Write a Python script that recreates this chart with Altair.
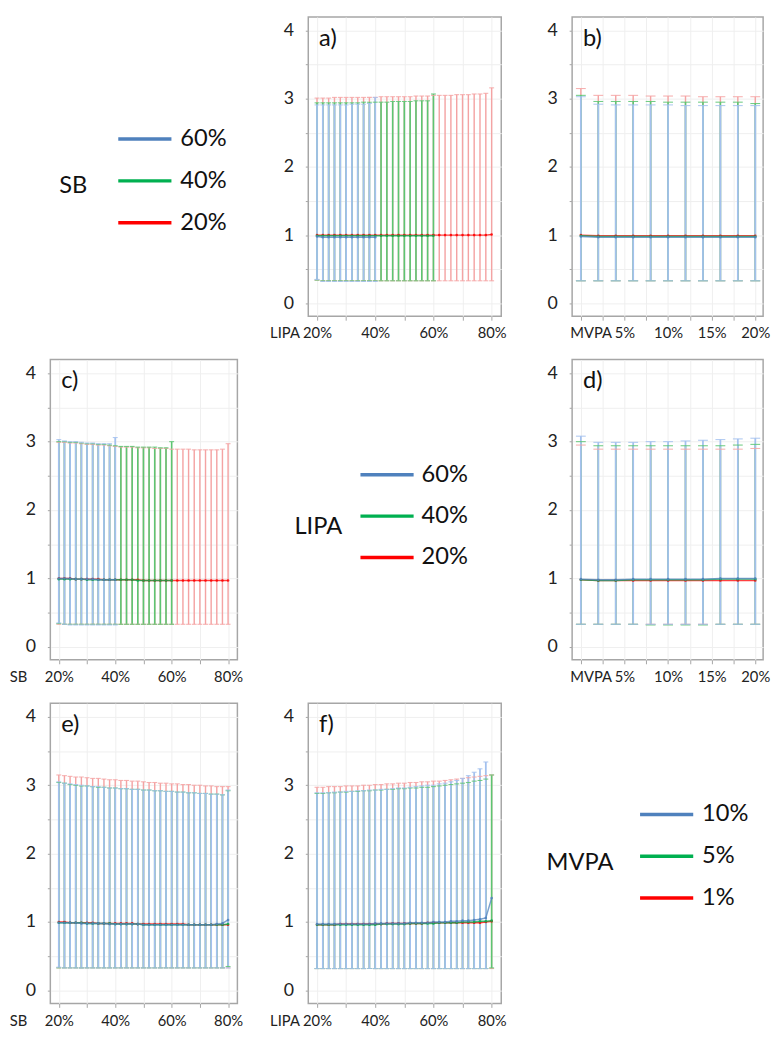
import altair as alt
import pandas as pd

FONT = "Lato"
BLUE, GREEN, RED = "#4f81bd", "#00b050", "#ff0000"
BAR_BLUE, BAR_GREEN, BAR_RED = "#a3c1ee", "#5cc672", "#f4a3a3"

# ---------------- x categories ----------------
X40 = [20, 22, 24, 26, 28, 30, 32, 34, 36, 38, 40]
X60 = [20, 22, 24, 26, 28, 30, 32, 34, 36, 38, 40, 42, 44, 46, 48, 50, 52, 54, 56, 58, 60]
X80 = [20, 22, 24, 26, 28, 30, 32, 34, 36, 38, 40, 42, 44, 46, 48, 50, 52, 54, 56, 58, 60,
       62, 64, 66, 68, 70, 72, 74, 76, 78, 80]
XM = [0, 2, 4, 6, 8, 10, 12, 14, 16, 18, 20]

SB_LABELS = ["60%", "40%", "20%"]
LIPA_LABELS = ["60%", "40%", "20%"]
MVPA_LABELS = ["10%", "5%", "1%"]
LEGEND_TITLES = ["SB", "LIPA", "MVPA"]
PANEL_TAGS = ["a)", "b)", "c)", "d)", "e)", "f)"]

# ---------------- panel a (x = LIPA, series = SB) ----------------
A60_HI = [2.91, 2.91, 2.91, 2.91, 2.91, 2.91, 2.92, 2.92, 2.92, 2.93, 3.02]
A60_MID = [0.98, 0.97, 0.97, 0.97, 0.97, 0.97, 0.97, 0.97, 0.97, 0.97, 0.97]
A60_LO = [0.35, 0.32, 0.32, 0.32, 0.32, 0.32, 0.32, 0.32, 0.32, 0.32, 0.32]
A40_HI = [2.94, 2.94, 2.94, 2.94, 2.94, 2.94, 2.94, 2.94, 2.95, 2.95, 2.95, 2.95, 2.95, 2.96,
          2.96, 2.96, 2.96, 2.97, 2.97, 2.97, 3.07]
A40_MID = [0.99, 0.99, 0.99, 0.99, 0.99, 0.99, 0.99, 0.99, 0.99, 0.99, 0.99, 0.99, 0.99, 0.99,
           0.99, 0.99, 0.99, 0.99, 0.99, 0.99, 0.99]
A40_LO = [0.34, 0.33, 0.33, 0.33, 0.33, 0.33, 0.33, 0.33, 0.33, 0.33, 0.33, 0.33, 0.33, 0.33,
          0.33, 0.33, 0.33, 0.33, 0.33, 0.33, 0.33]
A20_HI = [3.01, 3.01, 3.01, 3.02, 3.02, 3.02, 3.02, 3.02, 3.02, 3.02, 3.02, 3.03, 3.03, 3.03,
          3.03, 3.03, 3.03, 3.04, 3.04, 3.04, 3.05, 3.05, 3.05, 3.05, 3.06, 3.06, 3.06, 3.07,
          3.07, 3.08, 3.16]
A20_MID = [1.00, 1.00, 1.00, 1.00, 1.00, 1.00, 1.00, 1.00, 1.00, 1.00, 1.00, 1.00, 1.00, 1.00,
           1.00, 1.00, 1.00, 1.00, 1.00, 1.00, 1.00, 1.00, 1.00, 1.00, 1.00, 1.00, 1.00, 1.00,
           1.00, 1.00, 1.01]
A20_LO = [0.34, 0.33, 0.33, 0.33, 0.33, 0.33, 0.33, 0.33, 0.33, 0.33, 0.33, 0.33, 0.33, 0.33,
          0.33, 0.33, 0.33, 0.33, 0.33, 0.33, 0.33, 0.33, 0.33, 0.33, 0.33, 0.33, 0.33, 0.33,
          0.33, 0.33, 0.33]

# ---------------- panel b (x = MVPA, series = SB) ----------------
B60_HI = [3.03, 2.92, 2.91, 2.91, 2.91, 2.91, 2.90, 2.90, 2.90, 2.90, 2.90]
B60_MID = [0.98, 0.97, 0.97, 0.97, 0.97, 0.97, 0.97, 0.97, 0.97, 0.97, 0.97]
B60_LO = [0.33, 0.33, 0.33, 0.33, 0.33, 0.33, 0.33, 0.33, 0.33, 0.33, 0.33]
B40_HI = [3.05, 2.96, 2.96, 2.96, 2.96, 2.95, 2.95, 2.95, 2.95, 2.95, 2.93]
B40_MID = [0.99, 0.98, 0.98, 0.98, 0.98, 0.98, 0.98, 0.98, 0.98, 0.98, 0.98]
B40_LO = [0.33, 0.33, 0.33, 0.33, 0.33, 0.33, 0.33, 0.33, 0.33, 0.33, 0.33]
B20_HI = [3.15, 3.05, 3.05, 3.05, 3.04, 3.04, 3.04, 3.03, 3.03, 3.03, 3.03]
B20_MID = [1.00, 0.99, 0.99, 0.99, 0.99, 0.99, 0.99, 0.99, 0.99, 0.99, 0.99]
B20_LO = [0.33, 0.33, 0.33, 0.33, 0.33, 0.33, 0.33, 0.33, 0.33, 0.33, 0.33]

# ---------------- panel c (x = SB, series = LIPA) ----------------
C60_HI = [3.03, 3.01, 3.00, 3.00, 2.99, 2.98, 2.98, 2.97, 2.97, 2.97, 3.06]
C60_MID = [1.00, 1.00, 1.00, 0.99, 0.99, 0.99, 0.99, 0.98, 0.98, 0.98, 0.98]
C60_LO = [0.35, 0.33, 0.32, 0.32, 0.32, 0.32, 0.32, 0.32, 0.32, 0.32, 0.32]
C40_HI = [3.00, 3.00, 2.99, 2.99, 2.98, 2.97, 2.97, 2.96, 2.96, 2.95, 2.94, 2.93, 2.93, 2.93,
          2.92, 2.92, 2.92, 2.92, 2.91, 2.91, 3.00]
C40_MID = [0.99, 0.99, 0.99, 0.99, 0.99, 0.98, 0.98, 0.98, 0.98, 0.98, 0.98, 0.98, 0.98, 0.98,
           0.97, 0.97, 0.97, 0.97, 0.97, 0.97, 0.97]
C40_LO = [0.34, 0.33, 0.33, 0.33, 0.33, 0.33, 0.33, 0.33, 0.33, 0.33, 0.33, 0.33, 0.33, 0.33,
          0.33, 0.33, 0.33, 0.33, 0.33, 0.33, 0.33]
C20_HI = [2.99, 2.99, 2.98, 2.98, 2.97, 2.96, 2.96, 2.95, 2.95, 2.94, 2.93, 2.92, 2.92, 2.92,
          2.91, 2.91, 2.91, 2.90, 2.90, 2.90, 2.89, 2.89, 2.89, 2.89, 2.88, 2.88, 2.88, 2.88,
          2.88, 2.89, 2.97]
C20_MID = [1.00, 1.00, 1.00, 0.99, 0.99, 0.99, 0.99, 0.99, 0.98, 0.98, 0.98, 0.98, 0.98, 0.98,
           0.98, 0.97, 0.97, 0.97, 0.97, 0.97, 0.97, 0.97, 0.97, 0.97, 0.97, 0.97, 0.97, 0.97,
           0.97, 0.97, 0.97]
C20_LO = [0.33, 0.33, 0.33, 0.33, 0.33, 0.33, 0.33, 0.33, 0.33, 0.33, 0.33, 0.33, 0.33, 0.33,
          0.33, 0.33, 0.33, 0.33, 0.33, 0.33, 0.33, 0.33, 0.33, 0.33, 0.33, 0.33, 0.33, 0.33,
          0.33, 0.33, 0.33]

# ---------------- panel d (x = MVPA, series = LIPA) ----------------
D60_HI = [3.08, 2.99, 2.99, 2.99, 3.00, 3.00, 3.01, 3.02, 3.03, 3.04, 3.05]
D60_MID = [0.99, 0.98, 0.98, 0.99, 0.99, 0.99, 0.99, 0.99, 1.00, 1.00, 1.00]
D60_LO = [0.33, 0.33, 0.33, 0.33, 0.33, 0.33, 0.33, 0.33, 0.33, 0.33, 0.33]
D40_HI = [3.00, 2.94, 2.94, 2.94, 2.94, 2.94, 2.94, 2.94, 2.94, 2.95, 2.96]
D40_MID = [0.98, 0.97, 0.97, 0.98, 0.98, 0.98, 0.98, 0.98, 0.99, 0.99, 0.99]
D40_LO = [0.33, 0.33, 0.33, 0.33, 0.32, 0.32, 0.32, 0.32, 0.33, 0.33, 0.33]
D20_HI = [2.95, 2.89, 2.89, 2.89, 2.89, 2.89, 2.89, 2.89, 2.89, 2.89, 2.90]
D20_MID = [0.98, 0.97, 0.97, 0.97, 0.97, 0.97, 0.97, 0.97, 0.97, 0.97, 0.97]
D20_LO = [0.33, 0.33, 0.33, 0.33, 0.33, 0.33, 0.33, 0.33, 0.33, 0.33, 0.33]

# ---------------- panel e (x = SB, series = MVPA) ----------------
E10_HI = [3.05, 3.03, 3.02, 3.01, 3.00, 2.99, 2.98, 2.98, 2.97, 2.96, 2.96, 2.95, 2.95, 2.94,
          2.94, 2.93, 2.93, 2.92, 2.92, 2.91, 2.91, 2.90, 2.90, 2.89, 2.89, 2.88, 2.88, 2.87,
          2.87, 2.86, 2.93]
E10_MID = [0.99, 0.99, 0.99, 0.99, 0.98, 0.98, 0.98, 0.98, 0.98, 0.97, 0.97, 0.97, 0.97, 0.97,
           0.97, 0.96, 0.96, 0.96, 0.96, 0.96, 0.96, 0.96, 0.96, 0.96, 0.96, 0.96, 0.96, 0.96,
           0.97, 0.98, 1.03]
E10_LO = [0.34, 0.33, 0.33, 0.33, 0.33, 0.33, 0.33, 0.33, 0.33, 0.33, 0.33, 0.33, 0.33, 0.33,
          0.33, 0.33, 0.33, 0.33, 0.33, 0.33, 0.33, 0.33, 0.33, 0.33, 0.33, 0.33, 0.33, 0.33,
          0.33, 0.33, 0.33]
E5_HI = [3.04, 3.03, 3.01, 3.00, 2.99, 2.99, 2.98, 2.97, 2.97, 2.96, 2.96, 2.95, 2.95, 2.94,
         2.94, 2.93, 2.93, 2.92, 2.92, 2.91, 2.91, 2.90, 2.90, 2.89, 2.89, 2.88, 2.88, 2.87,
         2.87, 2.86, 2.92]
E5_MID = [0.99, 0.99, 0.99, 0.99, 0.99, 0.98, 0.98, 0.98, 0.98, 0.98, 0.97, 0.97, 0.97, 0.97,
          0.97, 0.96, 0.96, 0.96, 0.96, 0.96, 0.96, 0.96, 0.96, 0.96, 0.96, 0.96, 0.96, 0.96,
          0.96, 0.96, 0.97]
E5_LO = [0.33, 0.33, 0.33, 0.33, 0.33, 0.33, 0.33, 0.33, 0.33, 0.33, 0.33, 0.33, 0.33, 0.33,
         0.33, 0.33, 0.33, 0.33, 0.33, 0.33, 0.33, 0.33, 0.33, 0.33, 0.33, 0.33, 0.33, 0.33,
         0.33, 0.33, 0.35]
E1_HI = [3.15, 3.14, 3.13, 3.12, 3.12, 3.11, 3.10, 3.10, 3.09, 3.08, 3.08, 3.07, 3.07, 3.06,
         3.06, 3.05, 3.04, 3.04, 3.03, 3.03, 3.02, 3.02, 3.01, 3.01, 3.00, 3.00, 2.99, 2.99,
         2.98, 2.98, 2.98]
E1_MID = [1.00, 1.00, 0.99, 0.99, 0.99, 0.99, 0.99, 0.98, 0.98, 0.98, 0.98, 0.98, 0.98, 0.98,
          0.97, 0.97, 0.97, 0.97, 0.97, 0.97, 0.97, 0.97, 0.97, 0.96, 0.96, 0.96, 0.96, 0.96,
          0.96, 0.96, 0.96]
E1_LO = [0.33, 0.33, 0.33, 0.33, 0.33, 0.33, 0.33, 0.33, 0.33, 0.33, 0.33, 0.33, 0.33, 0.33,
         0.33, 0.33, 0.33, 0.33, 0.33, 0.33, 0.33, 0.33, 0.33, 0.33, 0.33, 0.33, 0.33, 0.33,
         0.33, 0.33, 0.33]

# ---------------- panel f (x = LIPA, series = MVPA) ----------------
F10_HI = [2.89, 2.89, 2.89, 2.90, 2.90, 2.91, 2.91, 2.92, 2.92, 2.93, 2.93, 2.94, 2.94, 2.95,
          2.96, 2.96, 2.97, 2.98, 2.99, 3.00, 3.00, 3.02, 3.03, 3.05, 3.07, 3.10, 3.14, 3.19,
          3.24, 3.34, None]
F10_MID = [0.97, 0.97, 0.97, 0.97, 0.97, 0.97, 0.97, 0.97, 0.97, 0.97, 0.98, 0.98, 0.98, 0.98,
           0.98, 0.98, 0.99, 0.99, 0.99, 0.99, 1.00, 1.00, 1.00, 1.01, 1.01, 1.02, 1.02, 1.03,
           1.04, 1.06, 1.35]
F10_LO = [0.32, 0.32, 0.32, 0.32, 0.32, 0.32, 0.32, 0.32, 0.32, 0.32, 0.32, 0.32, 0.32, 0.32,
          0.32, 0.32, 0.32, 0.32, 0.32, 0.32, 0.32, 0.32, 0.32, 0.32, 0.32, 0.32, 0.32, 0.32,
          0.32, 0.32, None]
F5_HI = [2.88, 2.88, 2.89, 2.89, 2.90, 2.90, 2.91, 2.91, 2.92, 2.92, 2.93, 2.93, 2.94, 2.94,
         2.95, 2.95, 2.96, 2.96, 2.97, 2.97, 2.98, 2.99, 3.00, 3.01, 3.02, 3.03, 3.04, 3.06,
         3.07, 3.09, 3.15]
F5_MID = [0.96, 0.96, 0.96, 0.96, 0.96, 0.96, 0.96, 0.96, 0.96, 0.96, 0.96, 0.97, 0.97, 0.97,
          0.97, 0.97, 0.98, 0.98, 0.98, 0.98, 0.98, 0.99, 0.99, 0.99, 0.99, 1.00, 1.00, 1.00,
          1.01, 1.01, 1.02]
F5_LO = [0.32, 0.32, 0.32, 0.32, 0.32, 0.32, 0.32, 0.32, 0.32, 0.32, 0.32, 0.32, 0.32, 0.32,
         0.32, 0.32, 0.32, 0.32, 0.32, 0.32, 0.32, 0.32, 0.32, 0.32, 0.32, 0.32, 0.32, 0.32,
         0.32, 0.32, 0.33]
F1_HI = [2.97, 2.97, 2.98, 2.98, 2.98, 2.99, 2.99, 2.99, 3.00, 3.00, 3.01, 3.01, 3.02, 3.02,
         3.03, 3.03, 3.04, 3.04, 3.05, 3.05, 3.06, 3.06, 3.07, 3.08, 3.09, 3.10, 3.11, 3.12,
         3.13, 3.14, 3.15]
F1_MID = [0.96, 0.96, 0.96, 0.96, 0.97, 0.97, 0.97, 0.97, 0.97, 0.97, 0.97, 0.97, 0.98, 0.98,
          0.98, 0.98, 0.98, 0.98, 0.98, 0.99, 0.99, 0.99, 0.99, 0.99, 0.99, 0.99, 0.99, 0.99,
          0.99, 1.00, 1.01]
F1_LO = [0.32, 0.32, 0.32, 0.32, 0.32, 0.32, 0.32, 0.32, 0.32, 0.32, 0.32, 0.32, 0.32, 0.32,
         0.32, 0.32, 0.32, 0.32, 0.32, 0.32, 0.32, 0.32, 0.32, 0.32, 0.32, 0.32, 0.32, 0.32,
         0.32, 0.32, 0.32]


def build(series):
    """series: list of (label, xs, lo, mid, hi) in drawing order (bottom first)."""
    rows = []
    for label, xs, lo, mid, hi in series:
        for i, xv in enumerate(xs):
            rows.append({"x": xv, "series": label, "lo": lo[i], "mid": mid[i], "hi": hi[i]})
    return pd.DataFrame(rows)


Y_VALUES = [0, 0.5, 1, 1.5, 2, 2.5, 3, 3.5, 4]
PCT_TICKS = [20, 30, 40, 50, 60, 70, 80]
MVPA_TICKS = [0, 2.5, 5, 7.5, 10, 12.5, 15, 17.5, 20]
PCT_EXPR = "datum.value % 20 === 0 ? datum.value + '%' : ''"
MVPA_EXPR = "(datum.value % 5 === 0 && datum.value > 0) ? datum.value + '%' : ''"
Y_EXPR = "datum.value % 1 === 0 ? '' + datum.value : ''"


def panel(df, labels, xdom, xvals, lexpr, xtitle, title_x, tag, capw, w, h):
    bar_scale = alt.Scale(domain=labels, range=[BAR_BLUE, BAR_GREEN, BAR_RED])
    line_scale = alt.Scale(domain=labels, range=[BLUE, GREEN, RED])
    width_scale = alt.Scale(domain=labels, range=[1.8, 1.45, 1.15])
    xaxis = alt.Axis(values=xvals, labelExpr=lexpr, title=xtitle, titleX=title_x, titleY=10,
                     titleAlign="right", titleBaseline="top", titleFontWeight="normal",
                     titleFontSize=15, labelFontSize=15, labelPadding=6, tickSize=4,
                     labelFlush=False, labelOverlap=False, grid=True)
    xenc = alt.X("x:Q", scale=alt.Scale(domain=xdom, nice=False, zero=False), axis=xaxis)
    yscale = alt.Scale(domain=[-0.19, 4.2], nice=False, zero=False)
    yaxis = alt.Axis(values=Y_VALUES, labelExpr=Y_EXPR,
                     title="", labelFontSize=18, labelPadding=12, tickSize=3,
                     labelOverlap=False, grid=True)
    base = alt.Chart(df)
    valid = "isValid(datum.hi)"
    rules = base.mark_rule().encode(
        x=xenc,
        y=alt.Y("lo:Q", scale=yscale, axis=yaxis),
        y2="hi:Q",
        stroke=alt.Stroke("series:N", scale=bar_scale, legend=None),
        strokeWidth=alt.StrokeWidth("series:N", scale=width_scale, legend=None),
    ).transform_filter(valid)
    cap_hi = base.mark_tick(orient="horizontal", size=capw, thickness=1.1, opacity=0.85).encode(
        x=xenc,
        y=alt.Y("hi:Q", scale=yscale, axis=yaxis),
        fill=alt.Fill("series:N", scale=bar_scale, legend=None),
    ).transform_filter(valid)
    cap_lo = base.mark_tick(orient="horizontal", size=capw, thickness=1.1, opacity=0.85).encode(
        x=xenc,
        y=alt.Y("lo:Q", scale=yscale, axis=yaxis),
        fill=alt.Fill("series:N", scale=bar_scale, legend=None),
    ).transform_filter(valid)
    line = base.mark_line(strokeWidth=1.5, opacity=0.75,
                          point=alt.OverlayMarkDef(size=7, filled=True, opacity=0.85)).encode(
        x=xenc,
        y=alt.Y("mid:Q", scale=yscale, axis=yaxis),
        color=alt.Color("series:N", scale=line_scale, legend=None),
    )
    tag_layer = alt.Chart(pd.DataFrame({"tag": [tag]})).mark_text(
        fontSize=24, align="left", baseline="middle", font=FONT, color="#111111"
    ).encode(text="tag:N", x=alt.value(11), y=alt.value(22))
    return alt.layer(rules, cap_hi, cap_lo, line, tag_layer).properties(width=w, height=h)


def legend_cell(title, labels, title_x, title_y, lx1, lx2, ys, tx, w, h):
    df = pd.DataFrame({"label": labels})
    yenc = alt.Y("label:N", sort=labels,
                 scale=alt.Scale(type="point", domain=labels, range=ys, padding=0), axis=None)
    lines = alt.Chart(df).mark_rule(strokeWidth=3.5).encode(
        x=alt.value(lx1), x2=alt.value(lx2), y=yenc,
        color=alt.Color("label:N", scale=alt.Scale(domain=labels, range=[BLUE, GREEN, RED]),
                        legend=None),
    )
    texts = alt.Chart(df).mark_text(align="left", baseline="middle", fontSize=24, font=FONT,
                                    color="#111111").encode(
        x=alt.value(tx), y=yenc, text="label:N")
    ttl = alt.Chart(pd.DataFrame({"t": [title]})).mark_text(
        align="left", baseline="middle", fontSize=24, font=FONT, color="#111111"
    ).encode(x=alt.value(title_x), y=alt.value(title_y), text="t:N")
    return alt.layer(lines, texts, ttl).properties(
        width=w, height=h, view=alt.ViewBackground(stroke="transparent"))


W1, W2, W3 = 190, 196, 194
H1, H2, H3 = 304, 305, 305
PCT_DOM = [17, 83.3]
MVPA_DOM = [-1, 20.9]

df_a = build([("20%", X80, A20_LO, A20_MID, A20_HI), ("40%", X60, A40_LO, A40_MID, A40_HI),
              ("60%", X40, A60_LO, A60_MID, A60_HI)])
df_b = build([("20%", XM, B20_LO, B20_MID, B20_HI), ("40%", XM, B40_LO, B40_MID, B40_HI),
              ("60%", XM, B60_LO, B60_MID, B60_HI)])
df_c = build([("20%", X80, C20_LO, C20_MID, C20_HI), ("40%", X60, C40_LO, C40_MID, C40_HI),
              ("60%", X40, C60_LO, C60_MID, C60_HI)])
df_d = build([("20%", XM, D20_LO, D20_MID, D20_HI), ("40%", XM, D40_LO, D40_MID, D40_HI),
              ("60%", XM, D60_LO, D60_MID, D60_HI)])
df_e = build([("1%", X80, E1_LO, E1_MID, E1_HI), ("5%", X80, E5_LO, E5_MID, E5_HI),
              ("10%", X80, E10_LO, E10_MID, E10_HI)])
df_f = build([("1%", X80, F1_LO, F1_MID, F1_HI), ("5%", X80, F5_LO, F5_MID, F5_HI),
              ("10%", X80, F10_LO, F10_MID, F10_HI)])

pa = panel(df_a, SB_LABELS, PCT_DOM, PCT_TICKS, PCT_EXPR, "LIPA", -9, PANEL_TAGS[0], 5, W2, H1)
pb = panel(df_b, SB_LABELS, MVPA_DOM, MVPA_TICKS, MVPA_EXPR, "MVPA", 40, PANEL_TAGS[1], 10, W3, H1)
pc = panel(df_c, LIPA_LABELS, PCT_DOM, PCT_TICKS, PCT_EXPR, "SB", -24, PANEL_TAGS[2], 5, W1, H2)
pdd = panel(df_d, LIPA_LABELS, MVPA_DOM, MVPA_TICKS, MVPA_EXPR, "MVPA", 40, PANEL_TAGS[3], 10, W3, H2)
pe = panel(df_e, MVPA_LABELS, PCT_DOM, PCT_TICKS, PCT_EXPR, "SB", -24, PANEL_TAGS[4], 5, W1, H3)
pf = panel(df_f, MVPA_LABELS, PCT_DOM, PCT_TICKS, PCT_EXPR, "LIPA", -9, PANEL_TAGS[5], 5, W2, H3)

leg1 = legend_cell(LEGEND_TITLES[0], SB_LABELS, 9, 172, 69, 123, [124, 209], 132, W1, H1)
leg2 = legend_cell(LEGEND_TITLES[1], LIPA_LABELS, -14, 170, 53, 107, [117, 201], 115, W2, H2)
leg3 = legend_cell(LEGEND_TITLES[2], MVPA_LABELS, -26, 162, 69, 123, [113, 198], 132, W3, H3)

chart = alt.concat(
    leg1, pa, pb,
    pc, leg2, pdd,
    pe, pf, leg3,
    columns=3,
    spacing={"row": 44, "column": 72},
    bounds="flush",
).resolve_scale(
    color="independent", stroke="independent", fill="independent",
    strokeWidth="independent"
).properties(
    padding={"left": 0, "top": 0, "right": 0, "bottom": 0}
).configure_view(
    stroke="#a6a6a6", strokeWidth=1.5
).configure_axis(
    labelFont=FONT, titleFont=FONT, labelColor="#222222", titleColor="#222222",
    tickColor="#a6a6a6", gridColor="#efefef", domain=False
)

chart.save("out.html", embed_options={"renderer": "svg", "actions": False})
